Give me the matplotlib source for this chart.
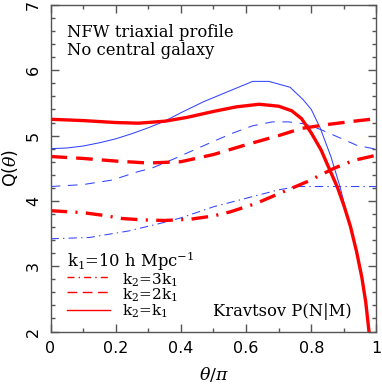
import numpy as np
import matplotlib
matplotlib.use('Agg')
import matplotlib.pyplot as plt

plt.rcParams['lines.scale_dashes']=False
plt.rcParams['mathtext.fontset']='dejavuserif'

# k2=k1 (thick red solid) and halo-only curve (thin blue solid)
x_k1_red=[0,0.1,0.2,0.27,0.35,0.42,0.5,0.57,0.64,0.7,0.74,0.77,0.8,0.83,0.857,0.88,0.9,0.92,0.939,0.955,0.967,0.977]
y_k1_red=[5.25,5.23,5.20,5.19,5.22,5.28,5.37,5.44,5.48,5.45,5.38,5.26,5.04,4.78,4.47,4.21,3.93,3.61,3.22,2.83,2.45,2.0]
x_k1_blue=[0,0.05,0.1,0.15,0.2,0.25,0.3,0.35,0.4,0.47,0.62,0.67,0.735,0.775,0.8,0.827,0.86,0.888,0.91,0.929,0.95,0.965,0.978]
y_k1_blue=[4.80,4.81,4.84,4.89,4.95,5.03,5.12,5.22,5.35,5.52,5.83,5.83,5.74,5.55,5.40,5.12,4.68,4.22,3.78,3.40,2.95,2.55,2.0]

# k2=2k1
x_2k1_red=[0,0.1,0.2,0.3,0.4,0.5,0.6,0.7,0.77,0.85,0.93,1.0]
y_2k1_red=[4.68,4.65,4.61,4.58,4.60,4.71,4.86,5.00,5.11,5.17,5.22,5.26]
x_2k1_blue=[0,0.1,0.19,0.27,0.31,0.377,0.413,0.49,0.56,0.62,0.68,0.73,0.78,0.83,0.89,0.94,1.0]
y_2k1_blue=[4.22,4.25,4.32,4.45,4.50,4.64,4.72,4.89,5.04,5.15,5.21,5.21,5.18,5.09,4.96,4.85,4.79]

# k2=3k1
x_3k1_red=[0,0.1,0.16,0.22,0.28,0.35,0.43,0.5,0.55,0.63,0.7,0.79,0.87,0.93,1.0]
y_3k1_red=[3.85,3.82,3.78,3.73,3.71,3.70,3.72,3.77,3.83,3.96,4.11,4.30,4.50,4.62,4.70]
x_3k1_blue=[0,0.12,0.24,0.34,0.4,0.5,0.6,0.7,0.76,0.85,1.0]
y_3k1_blue=[3.42,3.44,3.54,3.66,3.74,3.91,4.04,4.17,4.22,4.22,4.22]

legend_labels=[r'k$_2$=3k$_1$',r'k$_2$=2k$_1$',r'k$_2$=k$_1$']

red='#ff0000'
blue='#3344ff'
dash_red=(12,6.5)
dashdot_red=(12,6,1.5,6)
dash_blue=(7,5.5)
dashdot_blue=(6,3,1,3)

fig=plt.figure(figsize=(3.82,3.90),dpi=100)
ax=fig.add_axes([0.1322,0.15,0.8534,0.8372])

ax.plot(x_k1_blue,y_k1_blue,'-',color=blue,lw=0.75)
ax.plot(x_2k1_blue,y_2k1_blue,color=blue,lw=0.75,dashes=dash_blue)
ax.plot(x_3k1_blue,y_3k1_blue,color=blue,lw=0.75,dashes=dashdot_blue)

ax.plot(x_k1_red,y_k1_red,'-',color=red,lw=2.4)
ax.plot(x_2k1_red,y_2k1_red,color=red,lw=2.4,dashes=dash_red,dash_capstyle='butt')
ax.plot(x_3k1_red,y_3k1_red,color=red,lw=2.4,dashes=dashdot_red,dash_capstyle='butt')

ax.set_xlim(0,1)
ax.set_ylim(2,7)
ax.set_xticks(np.arange(0,1.01,0.2))
ax.set_xticklabels(['0','0.2','0.4','0.6','0.8','1'])
ax.set_xticks(np.arange(0,1.01,0.1),minor=True)
ax.set_yticks([2,3,4,5,6,7])
ax.set_yticks(np.arange(2,7.01,0.2),minor=True)
ax.tick_params(which='both',direction='in',top=True,right=True,color='#555555',labelsize=11.5,pad=7)
ax.tick_params(which='major',length=6,width=1)
ax.tick_params(which='minor',length=3,width=1)
ax.tick_params(axis='y',labelrotation=90)
for lab in ax.get_yticklabels():
    lab.set_verticalalignment('center')
for s in ax.spines.values():
    s.set_color('#555555')
    s.set_linewidth(1)

ax.set_xlabel(r'$\theta/\pi$',fontsize=12.5,labelpad=6)
ax.set_ylabel(r'Q($\theta$)',fontsize=12.5,labelpad=4)

tf=dict(family='DejaVu Serif',fontsize=11.8)
ax.text(0.05,0.915,'NFW triaxial profile',transform=ax.transAxes,va='center',**tf)
ax.text(0.05,0.862,'No central galaxy',transform=ax.transAxes,va='center',**tf)
ax.text(0.05,0.215,r'k$_1$=10 h Mpc$^{-1}$',transform=ax.transAxes,va='center',**tf)

# legend drawn by hand
ax.plot([0.05,0.183],[0.166,0.166],transform=ax.transAxes,color=red,lw=1,dashes=(5,3,1,3))
ax.plot([0.05,0.183],[0.121,0.121],transform=ax.transAxes,color=red,lw=1,dashes=(7,4))
ax.plot([0.05,0.183],[0.066,0.066],transform=ax.transAxes,color=red,lw=1)
ax.text(0.218,0.110,'\n'.join(legend_labels),transform=ax.transAxes,va='center',
        family='DejaVu Serif',fontsize=11,linespacing=0.86)
ax.text(0.50,0.061,'Kravtsov P(N|M)',transform=ax.transAxes,va='center',**tf)

fig.savefig('out.png',dpi=100)
